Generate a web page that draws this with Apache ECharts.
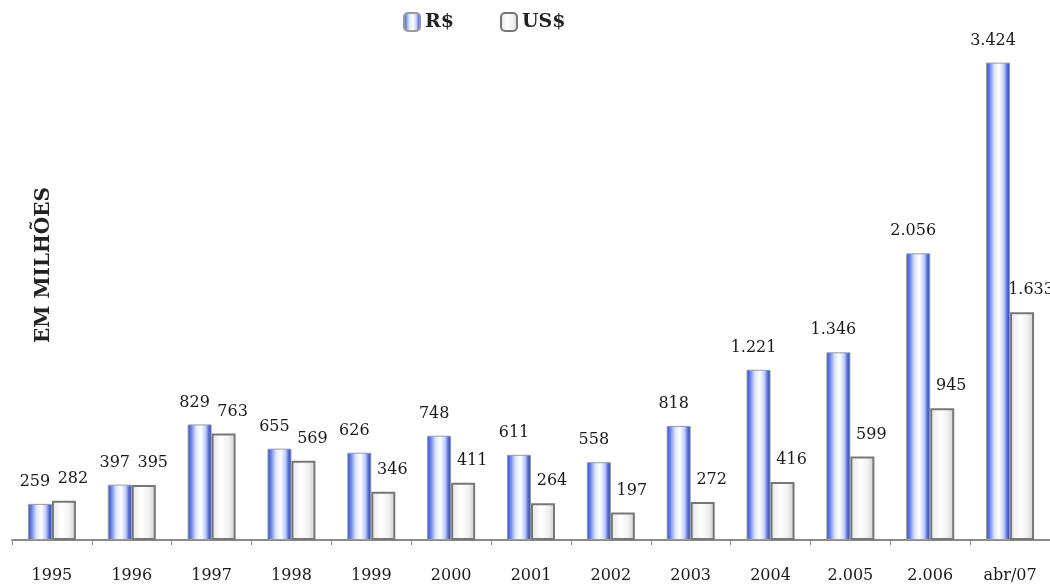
<!DOCTYPE html>
<html>
<head>
<meta charset="utf-8">
<script src="https://cdn.jsdelivr.net/npm/echarts@6/dist/echarts.min.js"></script>
<style>
  html, body { margin: 0; padding: 0; background: #fff; }
  #main { width: 1050px; height: 588px; }
</style>
</head>
<body>
<div id="main"></div>
<script>
// categorias e valores (em milhões)
var categories = ['1995', '1996', '1997', '1998', '1999', '2000', '2001', '2002', '2003', '2004', '2.005', '2.006', 'abr/07'];
var series_rs = [259, 397, 829, 655, 626, 748, 611, 558, 818, 1221, 1346, 2056, 3424];
var series_us = [282, 395, 763, 569, 346, 411, 264, 197, 272, 416, 599, 945, 1633];

var myChart = echarts.init(document.getElementById('main'));

// 1221 -> "1.221"
function fmt(v) {
  return String(v).replace(/\B(?=(\d{3})+(?!\d))/g, '.');
}

var fontFam = '"DejaVu Serif", "Liberation Serif", serif';

var option = {
  animation: false,
  legend: {
    data: ['R$', 'US$'],
    top: 7,
    left: 398,
    itemWidth: 16,
    itemHeight: 18,
    itemGap: 46,
    textStyle: {
      fontFamily: fontFam,
      fontWeight: 'bold',
      fontSize: 19,
      color: '#222'
    }
  },
  grid: {
    left: 12,
    width: 1040,
    top: 52,
    bottom: 48,
    containLabel: false
  },
  graphic: [{
    type: 'text',
    x: 44,
    y: 265,
    rotation: Math.PI / 2,
    style: {
      text: 'EM MILHÕES',
      fontFamily: fontFam,
      fontWeight: 'bold',
      fontSize: 20,
      fill: '#222',
      align: 'center',
      verticalAlign: 'middle'
    }
  }],
  xAxis: {
    type: 'category',
    data: categories,
    axisLine: { lineStyle: { color: '#8a8a8a', width: 2 } },
    axisTick: { show: true, length: 5, lineStyle: { color: '#8a8a8a' } },
    axisLabel: {
      margin: 28,
      fontFamily: fontFam,
      fontSize: 16,
      color: '#1a1a1a'
    }
  },
  yAxis: {
    type: 'value',
    min: 0,
    max: 3500,
    show: false,
    splitLine: { show: false }
  },
  series: [{
      name: 'R$',
      type: 'bar',
      barWidth: 24,
      barGap: '0%',
      data: series_rs,
      itemStyle: {
        borderColor: '#9a9a9a',
        borderWidth: 1,
        color: new echarts.graphic.LinearGradient(0, 0, 1, 0, [
          { offset: 0, color: '#2c48c4' },
          { offset: 0.15, color: '#6686ee' },
          { offset: 0.35, color: '#dfe5ff' },
          { offset: 0.55, color: '#ffffff' },
          { offset: 0.75, color: '#c2cdf8' },
          { offset: 0.88, color: '#4f6fe0' },
          { offset: 1, color: '#2a3fa8' }
        ])
      },
      label: {
        show: true,
        position: 'top',
        distance: 14,
        offset: [-5, 0],
        fontFamily: fontFam,
        fontSize: 16,
        color: '#1a1a1a',
        formatter: function (p) { return fmt(p.value); }
      }
    },
    {
      name: 'US$',
      type: 'bar',
      barWidth: 24,
      data: series_us,
      itemStyle: {
        borderColor: '#777',
        borderWidth: 2,
        color: new echarts.graphic.LinearGradient(0, 0, 1, 0, [
          { offset: 0, color: '#e4e4e4' },
          { offset: 0.4, color: '#ffffff' },
          { offset: 0.7, color: '#f2f2f2' },
          { offset: 1, color: '#cfcfcf' }
        ])
      },
      label: {
        show: true,
        position: 'top',
        distance: 14,
        offset: [9, 0],
        fontFamily: fontFam,
        fontSize: 16,
        color: '#1a1a1a',
        formatter: function (p) { return fmt(p.value); }
      }
    }
  ]
};

myChart.setOption(option);

window.addEventListener('resize', function () {
  myChart.resize();
});
</script>
</body>
</html>
